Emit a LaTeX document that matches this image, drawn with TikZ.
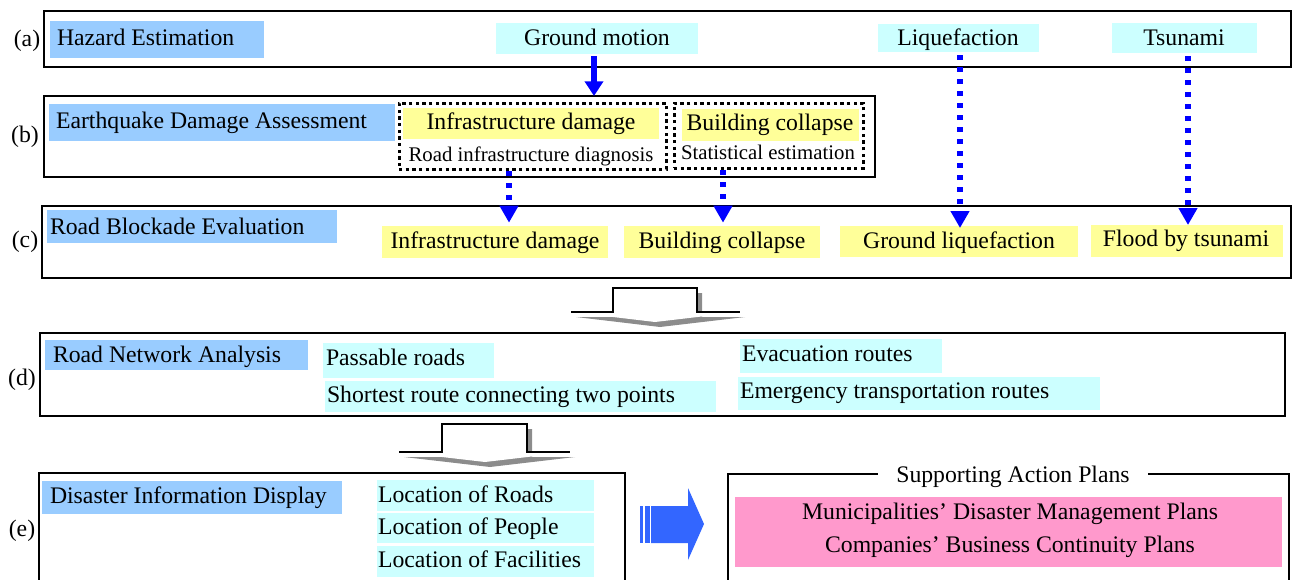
\documentclass[tikz,border=0pt]{standalone}
\usepackage{fontspec}
\setmainfont{Liberation Serif}
\usetikzlibrary{arrows.meta,fit,calc}
\definecolor{tblue}{HTML}{99CCFF}
\definecolor{tcyan}{HTML}{CCFFFF}
\definecolor{tyellow}{HTML}{FFFF99}
\definecolor{tpink}{HTML}{FF99CC}
\definecolor{abl}{HTML}{0000FF}
\definecolor{blk}{HTML}{3366FF}
\begin{document}
\begin{tikzpicture}[x=0.75pt,y=-0.75pt,
  every node/.style={font=\fontsize{17.8pt}{20pt}\selectfont, inner sep=0pt, outer sep=0pt},
  frame/.style={draw=black, line width=1.6pt},
  dotframe/.style={draw=black, line width=2.25pt, dash pattern=on 2.4pt off 2.6pt},
  bluebox/.style={fill=tblue},
  cyanbox/.style={fill=tcyan},
  yellowbox/.style={fill=tyellow},
  pinkbox/.style={fill=tpink},
  ltxt/.style={anchor=base west},
  ctxt/.style={anchor=base},
  small/.style={font=\fontsize{15.6pt}{18pt}\selectfont},
  dotarrow/.style={draw=abl, line width=4.5pt, dash pattern=on 3.75pt off 5.25pt, -{Triangle[width=13.5pt,length=12.75pt]}},
  solidarrow/.style={draw=abl, line width=4.5pt, -{Triangle[width=13.5pt,length=11pt]}},
  hollowarrow/.style={fill=white},
  hollowedge/.style={draw=black, line width=1.6pt},
  shadow/.style={fill=black!45},
]
\useasboundingbox (0,0) rectangle (1292,579);

% frames
\node[frame, fit={(44,11)(1291,67)}] (fa) {};
\node[frame, fit={(44,96)(875,177)}] (fb) {};
\node[frame, fit={(42,206)(1291,278)}] (fc) {};
\node[frame, fit={(40,333)(1285,416)}] (fd) {};
\node[frame, fit={(39,473)(625,600)}] (fe) {};
\node[frame, fit={(728,474)(1289,600)}] (ff) {};

% row labels
\node[ctxt] (la) at (27,46) {(a)};
\node[ctxt] (lb) at (25,142.5) {(b)};
\node[ctxt] (lc) at (25,247) {(c)};
\node[ctxt] (ld) at (22,385) {(d)};
\node[ctxt] (le) at (22,536) {(e)};

% (a)
\node[bluebox, fit={(50,21)(264,58)}] (hz) {};
\node[ltxt] (hzt) at (57,45) {Hazard Estimation};
\node[cyanbox, fit={(496,23)(698,54)}] (gm) {};
\node[ctxt] (gmt) at (597,45) {Ground motion};
\node[cyanbox, fit={(878,24)(1039,52)}] (lq) {};
\node[ctxt] (lqt) at (958,45) {Liquefaction};
\node[cyanbox, fit={(1112,23)(1257,53)}] (ts) {};
\node[ctxt] (tst) at (1184,45) {Tsunami};

% (b)
\node[bluebox, fit={(49,104)(395,141)}] (eq) {};
\node[ltxt] (eqt) at (56,128) {Earthquake Damage Assessment};
\node[dotframe, fit={(399,103)(666,169)}] (d1) {};
\node[dotframe, fit={(674,103)(863,168)}] (d2) {};
\node[yellowbox, fit={(403,108)(659,139)}] (ib) {};
\node[ctxt] (ibt) at (531,129) {Infrastructure damage};
\node[yellowbox, fit={(682,109)(859,141)}] (bb) {};
\node[ctxt] (bbt) at (770,130) {Building collapse};
\node[ctxt, small] (rid) at (531,161) {Road infrastructure diagnosis};
\node[ctxt, small] (ste) at (768,159) {Statistical estimation};

% (c)
\node[bluebox, fit={(47,210)(337,243)}] (rb) {};
\node[ltxt] (rbt) at (50,234) {Road Blockade Evaluation};
\node[yellowbox, fit={(382,226)(608,258)}] (ic) {};
\node[ctxt] (ict) at (495,248) {Infrastructure damage};
\node[yellowbox, fit={(624,226)(820,258)}] (bc) {};
\node[ctxt] (bct) at (722,248) {Building collapse};
\node[yellowbox, fit={(840,226)(1078,257)}] (gl) {};
\node[ctxt] (glt) at (959,248) {Ground liquefaction};
\node[yellowbox, fit={(1091,225)(1283,257)}] (fl) {};
\node[ctxt] (flt) at (1186,246) {Flood by tsunami};

% (d)
\node[bluebox, fit={(45,340)(308,370)}] (rn) {};
\node[ltxt] (rnt) at (53,362) {Road Network Analysis};
\node[cyanbox, fit={(323,343)(494,378)}] (pr) {};
\node[ltxt] (prt) at (326,365) {Passable roads};
\node[cyanbox, fit={(325,381)(716,412)}] (sr) {};
\node[ltxt] (srt) at (327,402) {Shortest route connecting two points};
\node[cyanbox, fit={(740,339)(942,373)}] (ev) {};
\node[ltxt] (evt) at (742,361) {Evacuation routes};
\node[cyanbox, fit={(738,377)(1100,410)}] (em) {};
\node[ltxt] (emt) at (740,398) {Emergency transportation routes};

% (e)
\node[bluebox, fit={(42,481)(342,514)}] (di) {};
\node[ltxt] (dit) at (50,503) {Disaster Information Display};
\node[cyanbox, fit={(377,480)(594,511)}] (lr) {};
\node[ltxt] (lrt) at (378,502) {Location of Roads};
\node[cyanbox, fit={(377,513)(594,543)}] (lp) {};
\node[ltxt] (lpt) at (378,534) {Location of People};
\node[cyanbox, fit={(377,546)(594,577)}] (lf) {};
\node[ltxt] (lft) at (378,567) {Location of Facilities};

% supporting plans
\node[ctxt, fill=white, inner xsep=14pt] (sap) at (1013,482) {Supporting Action Plans};
\node[pinkbox, fit={(735,497)(1282,567)}] (pk) {};
\node[ctxt] (mu) at (1010,519) {Municipalities’ Disaster Management Plans};
\node[ctxt] (co) at (1010,552) {Companies’ Business Continuity Plans};

% connectors
\coordinate (xg) at (594,0);
\coordinate (x1) at (509,0);
\coordinate (x2) at (723,0);
\coordinate (x3) at (960,0);
\coordinate (x4) at (1188,0);
\draw[solidarrow] ($(gm.south -| xg)+(0,2)$) -- (fb.north -| xg);
\draw[dotarrow, shorten >=2.5pt] ($(d1.south -| x1)+(0,2)$) -- (ic.north -| x1);
\draw[dotarrow, shorten >=2.5pt] ($(d2.south -| x2)+(0,2)$) -- (bc.north -| x2);
\draw[dotarrow, shorten >=-1.5pt] ($(lq.south -| x3)+(0,3)$) -- (gl.north -| x3);
\draw[dotarrow] ($(ts.south -| x4)+(0,3)$) -- (fl.north -| x4);

% hollow arrow 1 (c -> d)
\fill[shadow] (618,293) -- (702,293) -- (702,317) -- (745,317) -- (660,327) -- (576,317) -- (618,317) -- cycle;
\fill[hollowarrow] (613,288) -- (697,288) -- (697,312) -- (740,312) -- (655,322) -- (571,312) -- (613,312) -- cycle;
\draw[hollowedge] (571,312) -- (613,312) -- (613,288) -- (697,288) -- (697,312) -- (740,312);
% hollow arrow 2 (d -> e)
\fill[shadow] (447,429) -- (532,429) -- (532,457) -- (575,457) -- (490,467) -- (404,457) -- (447,457) -- cycle;
\fill[hollowarrow] (442,424) -- (527,424) -- (527,452) -- (570,452) -- (485,462) -- (399,452) -- (442,452) -- cycle;
\draw[hollowedge] (399,452) -- (442,452) -- (442,424) -- (527,424) -- (527,452) -- (570,452);

% blue block arrow (e -> plans)
\fill[blk] (640,506) rectangle (643,543);
\fill[blk] (645,506) rectangle (649.5,543);
\fill[blk] (651,506) -- (688,506) -- (688,488) -- (704,524) -- (688,560) -- (688,543) -- (651,543) -- cycle;
\end{tikzpicture}
\end{document}
